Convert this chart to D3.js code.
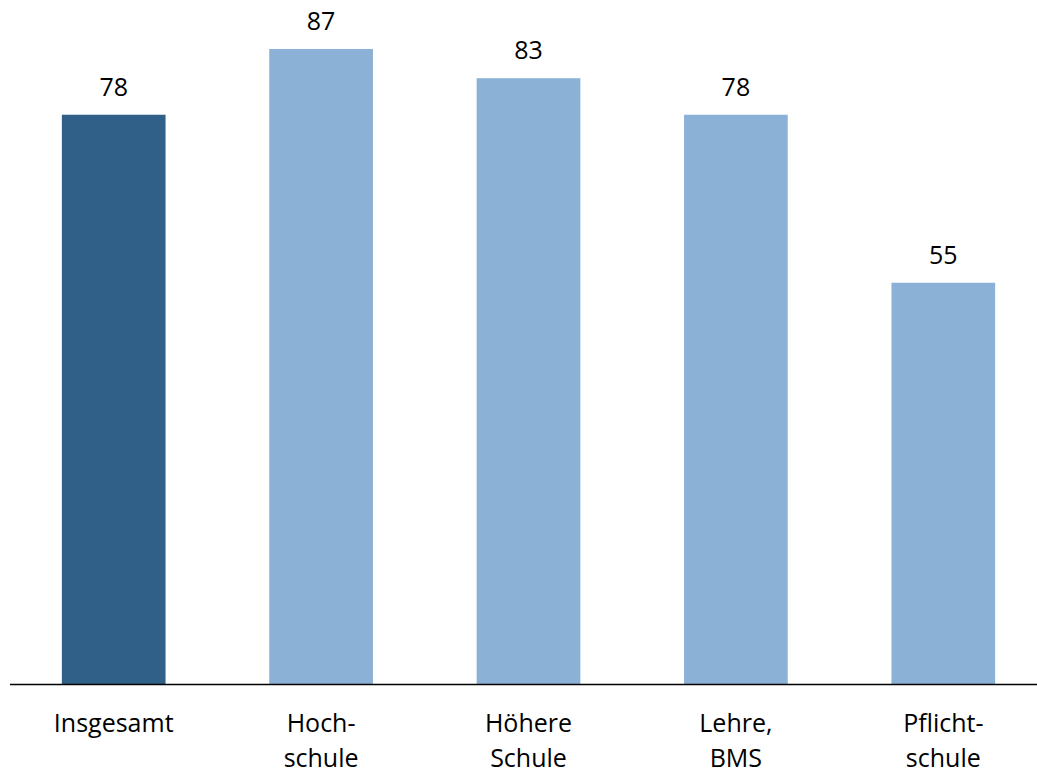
<!DOCTYPE html>
<html>
<head>
<meta charset="utf-8">
<script src="https://cdn.jsdelivr.net/npm/d3@7"></script>
<style>
  html, body { margin: 0; padding: 0; background: #fff; }
  text { font-family: "Open Sans", Lato, sans-serif; fill: #000; }
</style>
</head>
<body>
<svg id="chart" width="1037" height="772"></svg>
<script>
// Category labels (line breaks as drawn under the axis)
const categories = [
  ["Insgesamt"],
  ["Hoch-", "schule"],
  ["Höhere", "Schule"],
  ["Lehre,", "BMS"],
  ["Pflicht-", "schule"]
];
const values = [78, 87, 83, 78, 55];
const highlight = [true, false, false, false, false];

const W = 1037, H = 772;
const baseY = 684.5;
const svg = d3.select("#chart");

const x = d3.scaleBand()
  .domain(d3.range(categories.length))
  .range([10, 1047])
  .paddingInner(0.5)
  .paddingOuter(0.25);

const y = d3.scaleLinear()
  .domain([0, 87])
  .range([baseY, 49]);

// bars
svg.selectAll("rect.bar")
  .data(values)
  .join("rect")
  .attr("class", "bar")
  .attr("x", (d, i) => x(i))
  .attr("width", x.bandwidth())
  .attr("y", d => y(d))
  .attr("height", d => baseY - y(d))
  .attr("fill", (d, i) => highlight[i] ? "#305F87" : "#8CB1D7");

// value labels
svg.selectAll("text.val")
  .data(values)
  .join("text")
  .attr("class", "val")
  .attr("x", (d, i) => x(i) + x.bandwidth() / 2)
  .attr("y", d => y(d) - 19)
  .attr("text-anchor", "middle")
  .style("font-size", "25px")
  .text(d => d);

// baseline
svg.append("line")
  .attr("x1", 10).attr("x2", W)
  .attr("y1", baseY).attr("y2", baseY)
  .attr("stroke", "#000").attr("stroke-width", 1.3);

// category labels
const cat = svg.selectAll("text.cat")
  .data(categories)
  .join("text")
  .attr("class", "cat")
  .attr("text-anchor", "middle")
  .style("font-size", "25px");
cat.selectAll("tspan")
  .data((d, i) => d.map(s => ({ s, i })))
  .join("tspan")
  .attr("x", d => x(d.i) + x.bandwidth() / 2)
  .attr("y", (d, j) => 732 + j * 35)
  .text(d => d.s);
</script>
</body>
</html>
